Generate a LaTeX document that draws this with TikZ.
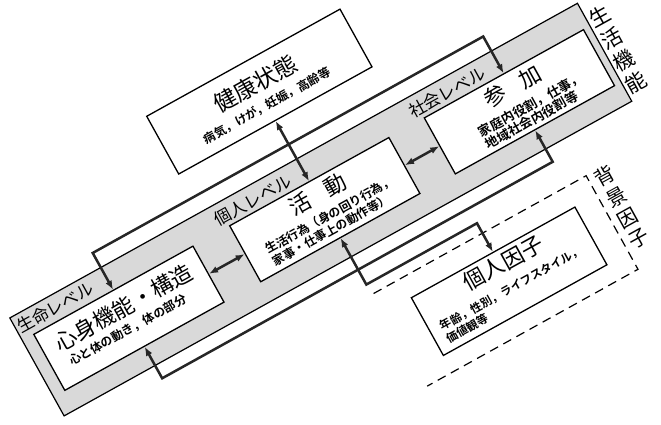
\documentclass[tikz,border=0pt]{standalone}
\usepackage{fontspec}
\setmainfont{Noto Sans CJK JP}[BoldFont={Noto Sans CJK JP Bold}]
\usetikzlibrary{arrows.meta}

\begin{document}
\begin{tikzpicture}[x=1pt,y=1pt,
  box/.style={draw, fill=white, line width=1.3pt, inner sep=0pt},
  link/.style={line width=2.5pt, black!85, {Latex[length=9pt,width=7pt]}-{Latex[length=9pt,width=7pt]}},
  title/.style={font=\fontsize{22}{24}\selectfont},
  sub/.style={font=\bfseries\fontsize{12}{14}\selectfont, align=left},
  lvl/.style={font=\fontsize{17}{18}\selectfont, anchor=west, inner sep=1pt},
  vlbl/.style={font=\fontsize{21}{25}\selectfont, align=center}]

\useasboundingbox (0,0) rectangle (661,424);

\begin{scope}[rotate=29, transform shape]

% Grey band for the three levels
\fill[black!15] (60,-24) rectangle (709,88);
\draw[line width=1.2pt] (60,-24) rectangle (709,88);
\node[vlbl] (lifeL) at (722,28) {生\\活\\機\\能};

% Level labels above each box
\node[lvl] (bioL) at (61,75) {生命レベル};
\node[lvl] (indL) at (286,73) {個人レベル};
\node[lvl] (socL) at (508,73) {社会レベル};

% Health condition (top)
\node[box, minimum width=221, minimum height=66] (health) at (388,165) {};
\node[title, font=\fontsize{23}{24}\selectfont] (healthT) at (388,174) {健康状態};
\node[sub] (healthS) at (388,149) {病気，けが，妊娠，高齢等};

% Body functions (left)
\node[box, minimum width=182, minimum height=64] (body) at (164,30) {};
\node[title, anchor=west] (bodyT) at (84,42) {心身機能・構造};
\node[sub, anchor=west] (bodyS) at (88,20) {心と体の動き，体の部分};

% Activity (middle)
\node[box, minimum width=182, minimum height=64] (act) at (388,30) {};
\node[title] (actT) at (389,47) {活\hspace{0.8em}動};
\node[sub, anchor=west] (actS) at (314,16) {生活行為（身の回り行為，\\家事・仕事上の動作等）};

% Participation (right)
\node[box, minimum width=182, minimum height=64] (part) at (610.5,30) {};
\node[title] (partT) at (612,47) {参\hspace{0.8em}加};
\node[sub, anchor=west, font=\bfseries\fontsize{13}{14}\selectfont] (partS) at (557,15) {家庭内役割，仕事，\\地域社会内役割等};

% Personal factors inside dashed bracket
\draw[line width=1.2pt, dash pattern=on 9pt off 6pt] (390,-67) -- (633,-67) -- (633,-174) -- (392,-174);
\node[vlbl, font=\fontsize{20}{23.5}\selectfont] (bgL) at (649,-112) {背\\景\\因\\子};
\node[box, minimum width=187, minimum height=66] (pers) at (514.5,-122) {};
\node[title] (persT) at (518,-103) {個人因子};
\node[sub, anchor=west, font=\bfseries\fontsize{11.5}{14}\selectfont] (persS) at (429,-136) {年齢，性別，ライフスタイル，\\価値観等};

% Connectors
\draw[link] (health.south) -- (act.north);
\draw[link] (body.east) -- (act.west);
\draw[link] (act.east) -- (part.west);
\draw[link] (body.north) -- ++(0,42) -- ++(446.5,0) -- (part.north);
\draw[link] (body.south) -- ++(0,-36) -- ++(446.5,0) -- (part.south);
\draw[link] (act.south) -- ++(0,-53) -- ++(126.5,0) -- (pers.north);

\end{scope}
\end{tikzpicture}
\end{document}
